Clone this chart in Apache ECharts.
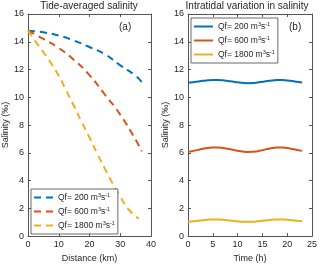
<!DOCTYPE html>
<html>
<head>
<meta charset="utf-8">
<script src="https://cdn.jsdelivr.net/npm/echarts@6/dist/echarts.min.js"></script>
<style>html,body{margin:0;padding:0;background:#fff;}#c{width:320px;height:268px;}</style>
</head>
<body>
<div id="c"></div>
<script>
// ---- Data ----
var flows = ['200', '600', '1800'];
var colors = ['#0072BD', '#D95319', '#EDB120'];
// Panel (a): tide-averaged salinity vs distance (km)
var distA = [0, 5, 10, 15, 20, 25, 30, 35, 37];
var sal200 = [14.8, 14.68, 14.45, 14.08, 13.62, 13.1, 12.3, 11.55, 11.1];
var sal600 = [14.8, 14.2, 13.55, 12.68, 11.6, 10.2, 8.75, 6.95, 6.1];
var dist1800 = [0, 2.5, 5, 7.5, 10, 12.5, 15, 17.5, 20, 22.5, 25, 27.5, 30, 32.5, 36];
var sal1800 = [14.8, 14.0, 13.25, 12.45, 11.55, 10.45, 9.35, 8.2, 7.1, 5.95, 4.85, 3.8, 2.85, 1.97, 1.25];
// Panel (b): intratidal variation vs time (h)
var timeH = [0,1,2,3,4,5,6,7,8,9,10,11,12,13,14,15,16,17,18,19,20,21,22,23];
var tid200 = [11.06,11.09,11.14,11.19,11.22,11.24,11.24,11.22,11.18,11.13,11.08,11.04,11.02,11.03,11.07,11.12,11.17,11.21,11.24,11.24,11.21,11.17,11.12,11.07];
var tid600 = [6.07,6.13,6.21,6.29,6.35,6.38,6.38,6.35,6.29,6.22,6.15,6.09,6.06,6.07,6.12,6.19,6.27,6.34,6.38,6.38,6.34,6.28,6.21,6.14];
var tid1800 = [1.04,1.07,1.11,1.15,1.18,1.2,1.2,1.18,1.15,1.11,1.07,1.04,1.03,1.04,1.07,1.11,1.15,1.18,1.2,1.2,1.18,1.15,1.11,1.07];
var distTicks = [0, 10, 20, 30, 40];
var timeTicks = [0, 5, 10, 15, 20, 25];
var salTicks = [0, 2, 4, 6, 8, 10, 12, 14, 16];

function pairs(xs, ys) { return xs.map(function (x, i) { return [x, ys[i]]; }); }

var FONT = 'Liberation Sans, Arial, Helvetica, sans-serif';
var AX = '#555';
var TX = '#262626';

function legendFmt(name) {
  var q = name.split('_')[1];
  return '{t|Qf= ' + q + ' m}{s|3}{t|s}{s|-1}';
}
var legendRich = {
  t: { fontSize: 8.5, lineHeight: 11, fontFamily: FONT, color: TX },
  s: { fontSize: 5.5, lineHeight: 11, fontFamily: FONT, color: TX, padding: [0, 0, 5, 0] }
};

function xAx(grid, pos, min, max, interval, name, show) {
  return {
    type: 'value', gridIndex: grid, position: pos, min: min, max: max, interval: interval,
    name: show ? name : '', nameLocation: 'middle', nameGap: 17,
    nameTextStyle: { fontSize: 9, color: TX, fontFamily: FONT },
    axisLine: { show: true, onZero: false, lineStyle: { color: AX, width: 1 } },
    axisTick: { show: true, inside: true, length: 3, lineStyle: { color: AX } },
    axisLabel: { show: show, fontSize: 9, color: TX, fontFamily: FONT, margin: 4 },
    splitLine: { show: false }
  };
}
function yAx(grid, pos, show, gap) {
  return {
    type: 'value', gridIndex: grid, position: pos, min: 0, max: 16, interval: 2,
    name: show ? 'Salinity (\u2030)' : '', nameLocation: 'middle', nameGap: gap || 16,
    nameTextStyle: { fontSize: 9, color: TX, fontFamily: FONT },
    axisLine: { show: true, onZero: false, lineStyle: { color: AX, width: 1 } },
    axisTick: { show: true, inside: true, length: 3, lineStyle: { color: AX } },
    axisLabel: { show: show, fontSize: 9, color: TX, fontFamily: FONT, margin: 4 },
    splitLine: { show: false }
  };
}

var seriesA = [pairs(distA, sal200), pairs(distA, sal600), pairs(dist1800, sal1800)];
var seriesB = [pairs(timeH, tid200), pairs(timeH, tid600), pairs(timeH, tid1800)];
var series = [];
flows.forEach(function (q, i) {
  series.push({
    name: 'a_' + q, type: 'line', xAxisIndex: 0, yAxisIndex: 0, data: seriesA[i],
    showSymbol: false, symbol: 'none', smooth: true, color: colors[i],
    lineStyle: { color: colors[i], width: 2, type: [7, 5] }
  });
});
flows.forEach(function (q, i) {
  series.push({
    name: 'b_' + q, type: 'line', xAxisIndex: 2, yAxisIndex: 2, data: seriesB[i],
    showSymbol: false, symbol: 'none', smooth: true, color: colors[i],
    lineStyle: { color: colors[i], width: 2 }
  });
});

var legendCommon = {
  orient: 'vertical', itemWidth: 19, itemHeight: 10, itemGap: 3, padding: [3, 3, 3, 2],
  borderColor: '#444', borderWidth: 0.8, backgroundColor: '#fff', borderRadius: 0,
  selectedMode: false, itemStyle: { opacity: 0, borderWidth: 0 },
  formatter: legendFmt, textStyle: { rich: legendRich, fontSize: 8.5 }
};

var chart = echarts.init(document.getElementById('c'), null, { renderer: 'canvas' });
chart.setOption({
  animation: false,
  backgroundColor: '#fff',
  grid: [
    { left: 28, right: 169, top: 14, bottom: 31, containLabel: false },
    { left: 188, right: 7, top: 14, bottom: 31, containLabel: false }
  ],
  xAxis: [
    xAx(0, 'bottom', 0, 40, 10, 'Distance (km)', true),
    xAx(0, 'top', 0, 40, 10, '', false),
    xAx(1, 'bottom', 0, 25, 5, 'Time (h)', true),
    xAx(1, 'top', 0, 25, 5, '', false)
  ],
  yAxis: [
    yAx(0, 'left', true, 14),
    yAx(0, 'right', false),
    yAx(1, 'left', true, 14),
    yAx(1, 'right', false)
  ],
  legend: [
    Object.assign({}, legendCommon, { data: ['a_200', 'a_600', 'a_1800'], left: 31, top: 189 }),
    Object.assign({}, legendCommon, { data: ['b_200', 'b_600', 'b_1800'], left: 191, top: 18 })
  ],
  graphic: [
    { type: 'text', x: 89, y: 1, style: { text: 'Tide-averaged salinity', font: '10px ' + FONT, fill: TX, align: 'center', textAlign: 'center' } },
    { type: 'text', x: 247, y: 1, style: { text: 'Intratidal variation in salinity', font: '10px ' + FONT, fill: TX, align: 'center', textAlign: 'center' } },
    { type: 'text', left: 119, top: 22, style: { text: '(a)', font: '10px ' + FONT, fill: TX } },
    { type: 'text', left: 289, top: 22, style: { text: '(b)', font: '10px ' + FONT, fill: TX } }
  ],
  series: series
});
</script>
</body>
</html>
